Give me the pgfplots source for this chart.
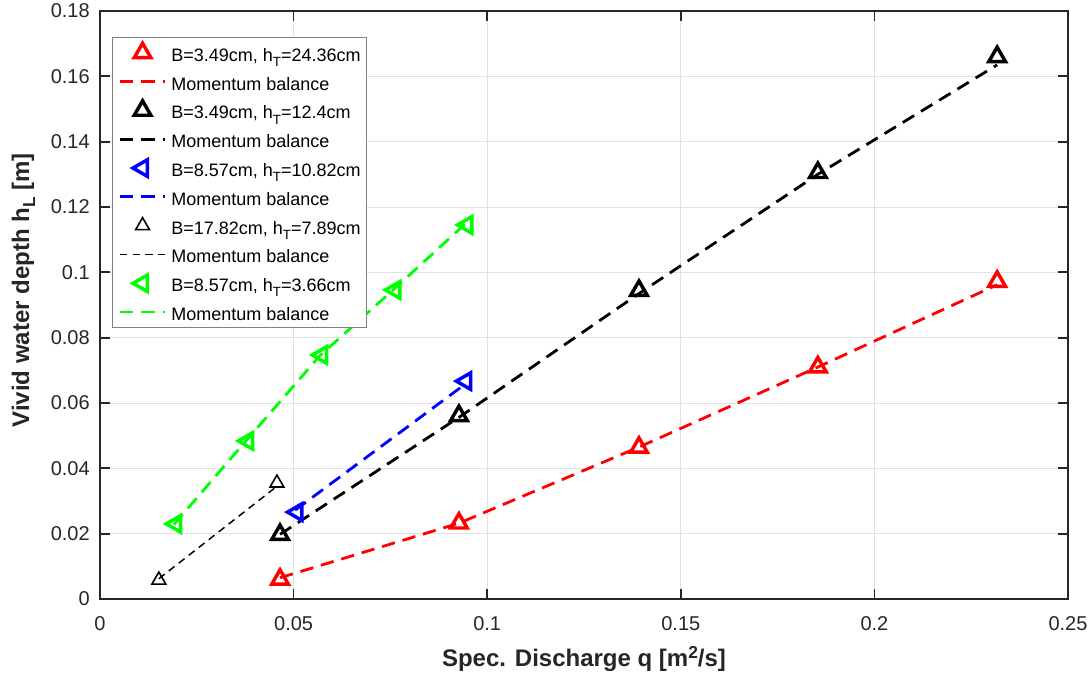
\documentclass[border=0pt]{standalone}
\usepackage{pgfplots}
\pgfplotsset{compat=1.18}
\usepackage{fontspec}
\setmainfont{Liberation Sans}
\definecolor{axgray}{RGB}{38,38,38}
\definecolor{gridgray}{RGB}{225,225,225}
\definecolor{mred}{RGB}{255,0,0}
\definecolor{mblue}{RGB}{0,0,255}
\definecolor{mgreen}{RGB}{0,255,0}
\newcommand{\lsub}[1]{\raisebox{-4pt}{\fontsize{10}{10}\selectfont #1}}
\newcommand{\bsub}[1]{\raisebox{-4.5pt}{\fontsize{13}{13}\selectfont\bfseries #1}}
\newcommand{\bsup}[1]{\raisebox{6.5pt}{\fontsize{13}{13}\selectfont\bfseries #1}}
\begin{document}
\begin{tikzpicture}
\begin{axis}[
  scale only axis, width=726pt, height=441pt,
  xmin=0, xmax=0.25, ymin=0, ymax=0.18,
  xtick={0,0.05,0.1,0.15,0.2,0.25},
  xticklabels={0,0.05,0.1,0.15,0.2,0.25},
  ytick={0,0.02,0.04,0.06,0.08,0.1,0.12,0.14,0.16,0.18},
  yticklabels={0,0.02,0.04,0.06,0.08,0.1,0.12,0.14,0.16,0.18},
  tick label style={font=\fontsize{15}{17}\selectfont, text=axgray, inner sep=0pt},
  xticklabel style={anchor=base, yshift=-24pt},
  yticklabel style={anchor=east, xshift=-7.5pt},
  grid=major, grid style={gridgray, line width=0.6pt},
  axis line style={axgray, line width=1.3pt},
  tick style={axgray, line width=1.3pt},
  tick align=inside, major tick length=7.5pt,
  xlabel={\fontsize{18}{21}\selectfont\bfseries Spec. Discharge q [m\bsup{2}/s]},
  xlabel style={at={(axis description cs:0.5,0)}, anchor=base, yshift=-51pt, text=axgray},
  ylabel={\fontsize{18}{21}\selectfont\bfseries Vivid water depth h\bsub{L} [m]},
  ylabel style={at={(axis description cs:-0.0733,0.525)}, anchor=base, rotate=0, text=axgray},
  legend image code/.code={\draw[mark repeat=2,mark phase=2] plot coordinates {(0pt,0pt) (17pt,0pt) (34pt,0pt)};},
  legend cell align=left,
  legend style={at={(axis description cs:0.0124,0.9558)}, anchor=north west,
    font=\fontsize{13.5}{15}\selectfont, draw=gray, line width=0.75pt,
    inner xsep=4.5pt, inner ysep=1pt, row sep=0.55pt,
    nodes={inner sep=0pt, text height=16.8pt, text depth=4.25pt},
    /tikz/every odd column/.append style={column sep=3.5pt}},
]
% Series 1: red
\addplot[only marks, mark=triangle, mark size=7.2pt, mred, line width=2.6pt]
  coordinates {(0.0465,0.0060) (0.0927,0.0232) (0.1392,0.0464) (0.1854,0.0710) (0.2317,0.0972)};
\addlegendentry{B=3.49cm, h\lsub{T}=24.36cm}
\addplot[mred, line width=2.1pt, dash pattern=on 10pt off 6pt, no marks]
  coordinates {(0.0465,0.0065) (0.0927,0.0232) (0.1392,0.0465) (0.1854,0.0710) (0.2317,0.0962)};
\addlegendentry{Momentum balance}
% Series 2: black thick
\addplot[only marks, mark=triangle, mark size=7.2pt, black, line width=2.6pt]
  coordinates {(0.0465,0.0197) (0.0927,0.0561) (0.1392,0.0944) (0.1854,0.1305) (0.2317,0.1660)};
\addlegendentry{B=3.49cm, h\lsub{T}=12.4cm}
\addplot[black, line width=2.1pt, dash pattern=on 10pt off 6pt, no marks]
  coordinates {(0.0465,0.0198) (0.0927,0.0556) (0.1392,0.0935) (0.1854,0.1300) (0.2317,0.1635)};
\addlegendentry{Momentum balance}
% Series 3: blue
\addplot[only marks, mark=triangle, mark size=7.2pt, every mark/.append style={rotate=90}, mblue, line width=2.6pt]
  coordinates {(0.0509,0.0266) (0.0945,0.0667)};
\addlegendentry{B=8.57cm, h\lsub{T}=10.82cm}
\addplot[mblue, line width=2.1pt, dash pattern=on 10pt off 6pt, no marks]
  coordinates {(0.0504,0.0272) (0.0940,0.0655)};
\addlegendentry{Momentum balance}
% Series 4: black thin
\addplot[only marks, mark=triangle, mark size=6pt, black, line width=1.2pt]
  coordinates {(0.0152,0.0058) (0.0457,0.0355)};
\addlegendentry{B=17.82cm, h\lsub{T}=7.89cm}
\addplot[black, line width=1.1pt, dash pattern=on 5.5pt off 4pt, no marks]
  coordinates {(0.0152,0.0062) (0.0457,0.0345)};
\addlegendentry{Momentum balance}
% Series 5: green
\addplot[only marks, mark=triangle, mark size=7.2pt, every mark/.append style={rotate=90}, mgreen, line width=2.6pt]
  coordinates {(0.0196,0.0230) (0.0382,0.0484) (0.0573,0.0747) (0.0762,0.0946) (0.0948,0.1145)};
\addlegendentry{B=8.57cm, h\lsub{T}=3.66cm}
\addplot[mgreen, line width=2.1pt, dash pattern=on 10pt off 6pt, no marks]
  coordinates {(0.0191,0.0228) (0.0377,0.0484) (0.0568,0.0745) (0.0757,0.0946) (0.0943,0.1148)};
\addlegendentry{Momentum balance}
\end{axis}
\path ([shift={(-75pt,-58.5pt)}]current axis.south west) rectangle ([shift={(17.25pt,8.25pt)}]current axis.north east);
\end{tikzpicture}
\end{document}
